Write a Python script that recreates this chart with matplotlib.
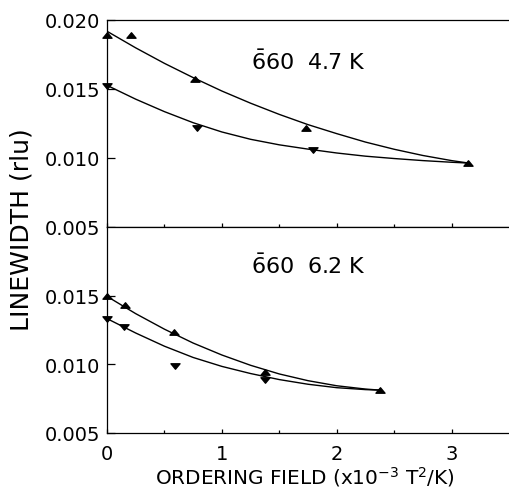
import matplotlib
matplotlib.use("Agg")
import matplotlib.pyplot as plt
import numpy as np
from matplotlib.path import Path

plt.rcParams['font.family'] = ['DejaVu Sans']

# ---- data: 660 reflection at 4.7 K (top panel) ----
top_up_x = [0.0, 0.205, 0.77, 1.73, 3.14]
top_up_y = [0.01886, 0.01886, 0.01572, 0.01215, 0.00962]
top_dn_x = [0.0, 0.78, 1.79]
top_dn_y = [0.01520, 0.01217, 0.01060]

fit_x_top = [0.0, 0.25, 0.5, 0.75, 1.0, 1.25, 1.5, 1.75, 2.0, 2.25, 2.5, 2.75, 3.0, 3.15]
top_fit_up = [0.01915, 0.01795, 0.01683, 0.01580, 0.01483, 0.01395, 0.01314, 0.01240,
              0.01175, 0.01114, 0.01062, 0.01017, 0.00980, 0.00962]
top_fit_dn = [0.01524, 0.01424, 0.01334, 0.01254, 0.01187, 0.01134, 0.01094, 0.01063,
              0.01035, 0.01012, 0.00995, 0.00980, 0.00968, 0.00962]

# ---- data: 660 reflection at 6.2 K (bottom panel) ----
bot_up_x = [0.0, 0.156, 0.581, 1.376, 2.376]
bot_up_y = [0.01500, 0.01430, 0.01237, 0.00947, 0.00812]
bot_dn_x = [0.0, 0.147, 0.59, 1.376]
bot_dn_y = [0.01330, 0.01270, 0.00988, 0.00886]

fit_x_bot = [0.0, 0.25, 0.5, 0.75, 1.0, 1.25, 1.5, 1.75, 2.0, 2.25, 2.38]
bot_fit_up = [0.01495, 0.01369, 0.01256, 0.01155, 0.01068, 0.00993, 0.00930, 0.00881,
              0.00844, 0.00820, 0.00812]
bot_fit_dn = [0.01333, 0.01228, 0.01132, 0.01050, 0.00985, 0.00933, 0.00889, 0.00855,
              0.00830, 0.00816, 0.00812]

x_ticks = [0, 1, 2, 3]
top_yticks = [0.005, 0.010, 0.015, 0.020]
bot_yticks = [0.005, 0.010, 0.015]
top_label = r'$\bar{6}$60  4.7 K'
bot_label = r'$\bar{6}$60  6.2 K'
xlabel = r'ORDERING FIELD (x10$^{\mathregular{-3}}$ T$^{\mathregular{2}}$/K)'
ylabel = 'LINEWIDTH (rlu)'

# flattened triangle markers
up_tri = Path([(-1, -0.6), (1, -0.6), (0, 0.6), (-1, -0.6)],
              [Path.MOVETO, Path.LINETO, Path.LINETO, Path.CLOSEPOLY])
dn_tri = Path([(-1, 0.6), (1, 0.6), (0, -0.6), (-1, 0.6)],
              [Path.MOVETO, Path.LINETO, Path.LINETO, Path.CLOSEPOLY])

W, H = 509, 489
fig = plt.figure(figsize=(W / 100, H / 100), dpi=100)
left, right = 107, 509
top, mid, bottom = 20.5, 228, 434
ax1 = fig.add_axes([left / W, (H - mid) / H, (right - left) / W, (mid - top) / H])
ax2 = fig.add_axes([left / W, (H - bottom) / H, (right - left) / W, (bottom - mid) / H])

fs_tick = 14
for ax, yt in ((ax1, top_yticks), (ax2, bot_yticks)):
    ax.set_xlim(0, 3.5)
    ax.set_ylim(0.005, 0.020)
    ax.set_xticks(x_ticks)
    ax.set_xticks([0.5, 1.5, 2.5], minor=True)
    ax.set_yticks(yt)
    ax.set_yticklabels([f'{v:.3f}' for v in yt], fontsize=fs_tick)
    ax.spines['right'].set_visible(False)
    for s in ax.spines.values():
        s.set_linewidth(0.9)
    ax.tick_params(axis='y', direction='in', length=6, width=0.9, pad=5)
    ax.tick_params(axis='x', which='major', direction='in', length=3, width=0.9, pad=8)
    ax.tick_params(axis='x', which='minor', direction='in', length=2.5, width=0.9)

ax1.tick_params(axis='x', labelbottom=False)
ax2.set_xticklabels([str(v) for v in x_ticks], fontsize=fs_tick)

ms = 6.5
ax1.plot(fit_x_top, top_fit_up, color='black', lw=1.0)
ax1.plot(fit_x_top, top_fit_dn, color='black', lw=1.0)
ax1.plot(top_up_x, top_up_y, linestyle='none', marker=up_tri, ms=ms, color='black', clip_on=False)
ax1.plot(top_dn_x, top_dn_y, linestyle='none', marker=dn_tri, ms=ms, color='black', clip_on=False)

ax2.plot(fit_x_bot, bot_fit_up, color='black', lw=1.0)
ax2.plot(fit_x_bot, bot_fit_dn, color='black', lw=1.0)
ax2.plot(bot_up_x, bot_up_y, linestyle='none', marker=up_tri, ms=ms, color='black', clip_on=False)
ax2.plot(bot_dn_x, bot_dn_y, linestyle='none', marker=dn_tri, ms=ms, color='black', clip_on=False)

ax1.text(1.255, 0.01703, top_label, fontsize=16, ha='left', va='center')
ax2.text(1.255, 0.01725, bot_label, fontsize=16, ha='left', va='center')

fig.text(305 / W, 1 - 477 / H, xlabel, fontsize=14.4, ha='center', va='center')
fig.text(22 / W, 1 - 230 / H, ylabel, fontsize=18, ha='center', va='center', rotation=90)

fig.savefig('out.png', dpi=100)
